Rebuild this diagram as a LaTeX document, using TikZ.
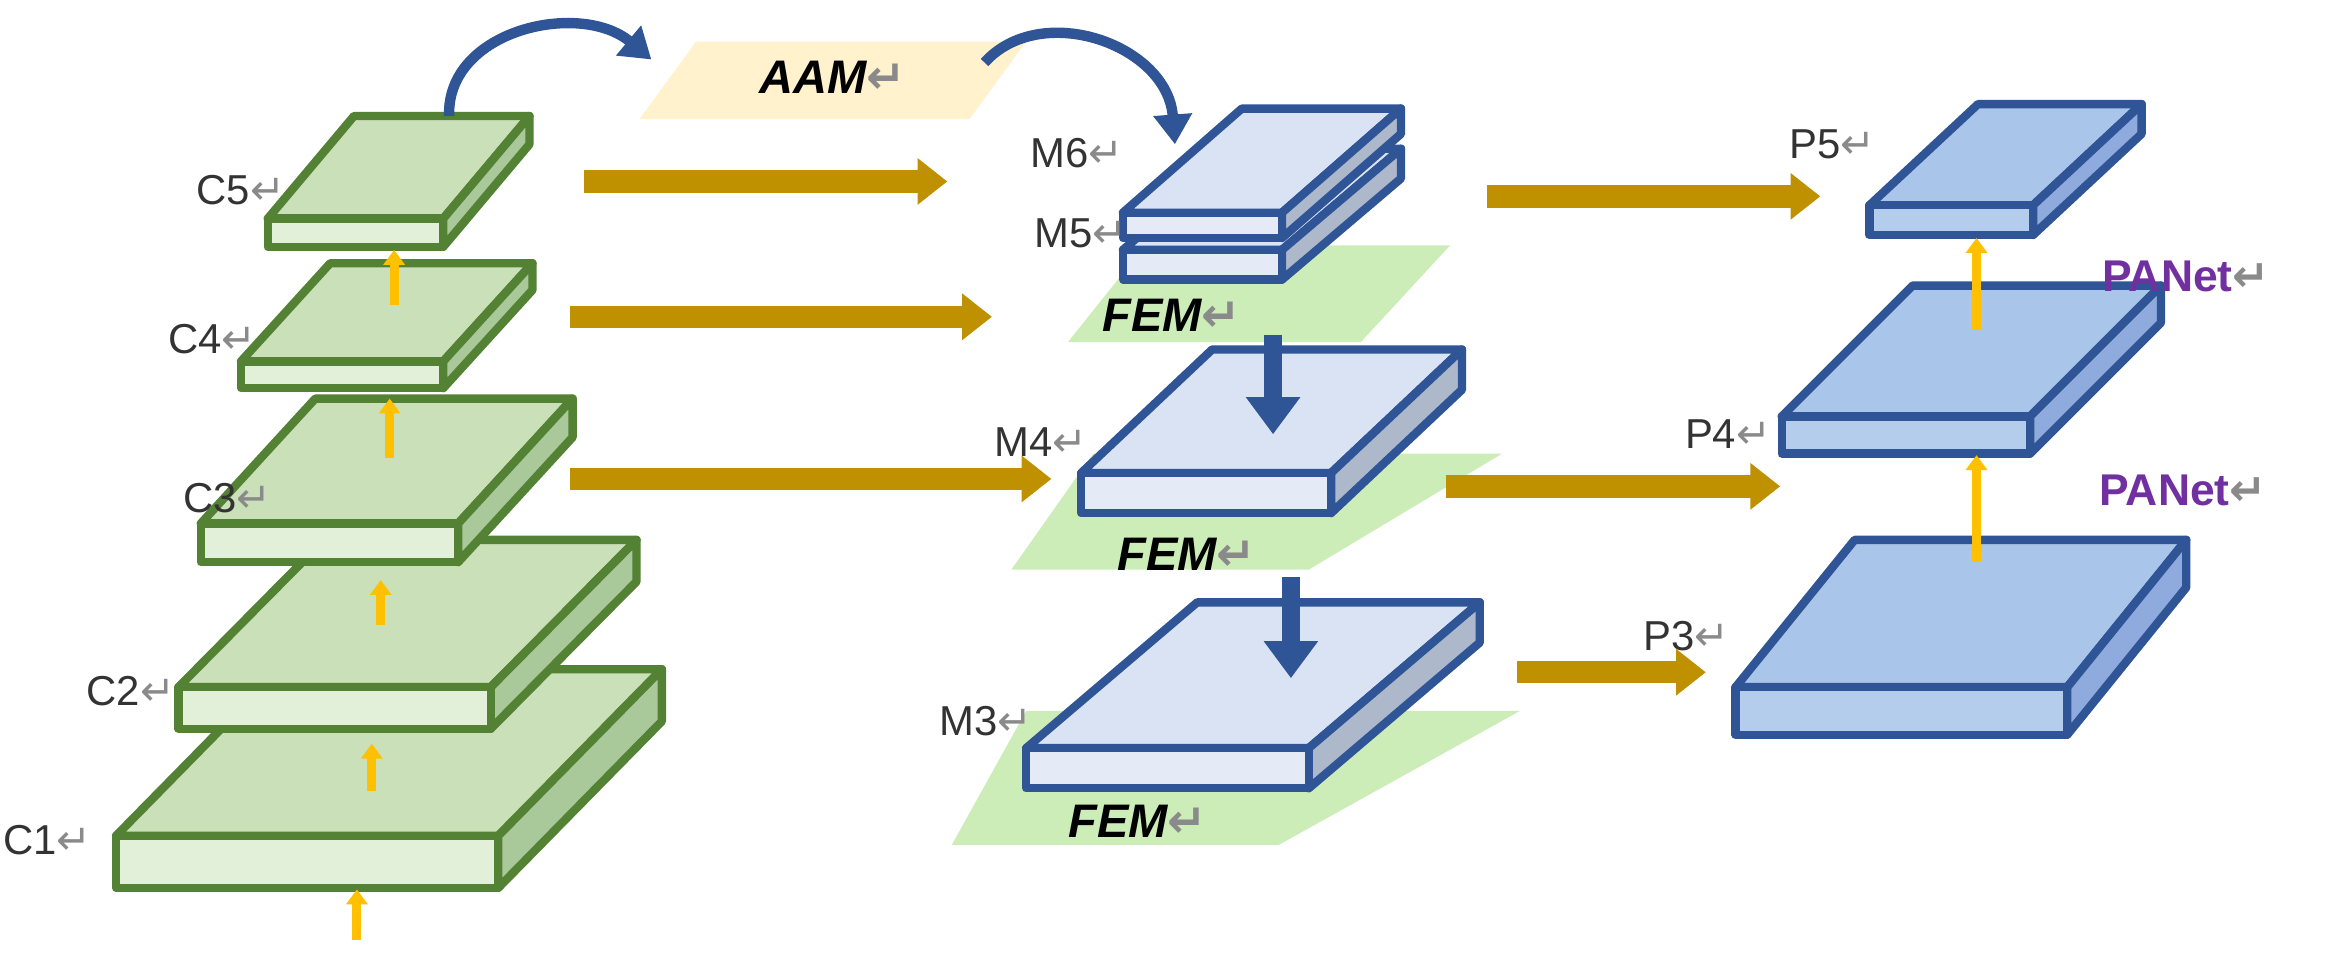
\documentclass[tikz,border=0pt]{standalone}
\usepackage{fontspec}
\setmainfont{Liberation Sans}
\newfontfamily\symf{DejaVu Sans}
\usetikzlibrary{arrows.meta, positioning, calc}
\definecolor{gtop}{HTML}{C9E0B8}
\definecolor{gfront}{HTML}{E2F0D9}
\definecolor{gside}{HTML}{A9C99A}
\definecolor{gline}{HTML}{548235}
\definecolor{mtop}{HTML}{DAE3F3}
\definecolor{mfront}{HTML}{E4EBF7}
\definecolor{mside}{HTML}{ADB9CA}
\definecolor{mline}{HTML}{2F5597}
\definecolor{ptop}{HTML}{A9C6EA}
\definecolor{pfront}{HTML}{B4CDED}
\definecolor{pside}{HTML}{8FAADC}
\definecolor{pline}{HTML}{2F5597}
\definecolor{gold}{HTML}{BF9000}
\definecolor{amber}{HTML}{FFC000}
\definecolor{femgreen}{HTML}{CDEDB8}
\definecolor{aamfill}{HTML}{FFF2CC}
\definecolor{retgray}{HTML}{8A8A8A}
\definecolor{purp}{HTML}{7030A0}
\tikzset{%
	lab/.style={font=\fontsize{8}{9}\selectfont, inner sep=0pt, text=black!80},
	panet/.style={font=\fontsize{8.5}{10}\selectfont\bfseries, text=purp, inner sep=0pt},
	tag/.style={font=\fontsize{9}{10}\selectfont\bfseries\itshape, inner sep=0pt},
	lateral/.style={draw=gold, line width=0.15cm, -{Triangle[length=0.2cm, width=0.3cm]}},
	upward/.style={draw=amber, line width=0.06cm, -{Triangle[length=0.1cm, width=0.14cm]}},
	downward/.style={draw=mline, fill=mline!80, line width=0.12cm, -{Triangle[length=0.25cm, width=0.35cm]}},
	curl/.style={draw=mline, line width=0.07cm, -{Triangle[length=0.2cm, width=0.25cm]}}
}
% slab: name, x left, x right, y top, y bottom, dx, dy, colour set
\newcommand\slab[8]{%
	\filldraw[fill=#8top, draw=#8line, line width=1.6pt, line join=round]
		(#2,#4) -- (#2+#6,#4-#7) -- (#3+#6,#4-#7) -- (#3,#4) -- cycle;
	\filldraw[fill=#8side, draw=#8line, line width=1.6pt, line join=round]
		(#3,#4) -- (#3+#6,#4-#7) -- (#3+#6,#5-#7) -- (#3,#5) -- cycle;
	\filldraw[fill=#8front, draw=#8line, line width=1.6pt, line join=round]
		(#2,#4) rectangle (#3,#5);
	\coordinate (#1) at ({(#2+#3)/2},#5);
}
\newcommand\lbl[1]{#1{\color{retgray}\symf\char"21B5}}
\begin{document}
\begin{tikzpicture}[x=0.01cm, y=-0.01cm]
	\useasboundingbox (0,0) rectangle (1568,650);
	% FEM planes
	\fill[femgreen] (718,230) -- (770,165) -- (975,165) -- (915,230) -- cycle;
	\fill[femgreen] (680,383) -- (735,305) -- (1010,305) -- (880,383) -- cycle;
	\fill[femgreen] (640,568) -- (690,478) -- (1022,478) -- (860,568) -- cycle;
	% AAM
	\fill[aamfill] (430,80) -- (468,28) -- (690,28) -- (652,80) -- cycle;
	\node[tag] (aam) at (560,52) {\lbl{AAM}};
	% backbone
	\slab{c1}{78}{335}{562}{597}{110}{112}{g}
	\slab{c2}{120}{330}{462}{490}{98}{99}{g}
	\slab{c3}{135}{308}{352}{378}{77}{84}{g}
	\slab{c4}{162}{298}{243}{261}{60}{66}{g}
	\slab{c5}{180}{298}{147}{166}{58}{69}{g}
	% middle
	\slab{m5}{755}{862}{168}{188}{80}{68}{m}
	\slab{m6}{755}{862}{143}{160}{80}{70}{m}
	\slab{m4}{727}{895}{318}{345}{88}{83}{m}
	\slab{m3}{690}{880}{503}{530}{115}{98}{m}
	% pyramid
	\slab{p5}{1257}{1367}{138}{158}{73}{68}{p}
	\slab{p4}{1198}{1365}{280}{305}{88}{88}{p}
	\slab{p3}{1167}{1390}{462}{494}{80}{99}{p}
	% texts
	\node[lab] (lc5) at (162,128) {\lbl{C5}};
	\node[lab] (lc4) at (143,228) {\lbl{C4}};
	\node[lab] (lc3) at (153,335) {\lbl{C3}};
	\node[lab] (lc2) at (88,465) {\lbl{C2}};
	\node[lab] (lc1) at (32,565) {\lbl{C1}};
	\node[lab] (lm6) at (724,103) {\lbl{M6}};
	\node[lab] (lm5) at (727,157) {\lbl{M5}};
	\node[lab] (lm4) at (700,297) {\lbl{M4}};
	\node[lab] (lm3) at (663,485) {\lbl{M3}};
	\node[lab] (lp5) at (1232,97) {\lbl{P5}};
	\node[lab] (lp4) at (1162,292) {\lbl{P4}};
	\node[lab] (lp3) at (1134,428) {\lbl{P3}};
	\node[tag] (fem1) at (788,212) {\lbl{FEM}};
	\node[tag] (fem2) at (798,373) {\lbl{FEM}};
	\node[tag] (fem3) at (765,552) {\lbl{FEM}};
	\node[panet] (pan1) at (1470,186) {\lbl{PANet}};
	\node[panet] (pan2) at (1468,330) {\lbl{PANet}};
	% arrow ends
	\coordinate (a1) at (393,122); \coordinate (b1) at (637,122);
	\coordinate (a2) at (383,213); \coordinate (b2) at (667,213);
	\coordinate (a3) at (383,322); \coordinate (b3) at (707,322);
	\coordinate (a4) at (1000,132); \coordinate (b4) at (1224,132);
	\coordinate (a5) at (972,327); \coordinate (b5) at (1197,327);
	\coordinate (a6) at (1020,452); \coordinate (b6) at (1147,452);
	\foreach \i in {1,...,6}
		\draw[lateral] (a\i) -- (b\i);
	% bottom-up
	\coordinate (u0) at (240,632); \coordinate (v0) at (240,598);
	\coordinate (u1) at (250,532); \coordinate (v1) at (250,500);
	\coordinate (u2) at (256,420); \coordinate (v2) at (256,390);
	\coordinate (u3) at (262,308); \coordinate (v3) at (262,268);
	\coordinate (u4) at (265,205); \coordinate (v4) at (265,168);
	\coordinate (u5) at (1329,378); \coordinate (v5) at (1329,306);
	\coordinate (u6) at (1329,222); \coordinate (v6) at (1329,160);
	\foreach \i in {0,...,6}
		\draw[upward] (u\i) -- (v\i);
	% top-down
	\coordinate (d1) at (856,225); \coordinate (e1) at (856,292);
	\coordinate (d2) at (868,388); \coordinate (e2) at (868,456);
	\draw[downward] (d1) -- (e1);
	\draw[downward] (d2) -- (e2);
	% attention loop
	\coordinate (c5up) at (302,78);
	\coordinate (aamin) at (438,40);
	\coordinate (aamout) at (662,42);
	\coordinate (m6in) at (790,97);
	\draw[curl] (c5up) .. controls (300,20) and (390,0) .. (aamin);
	\draw[curl] (aamout) .. controls (700,0) and (785,30) .. (m6in);
\end{tikzpicture}
\end{document}
